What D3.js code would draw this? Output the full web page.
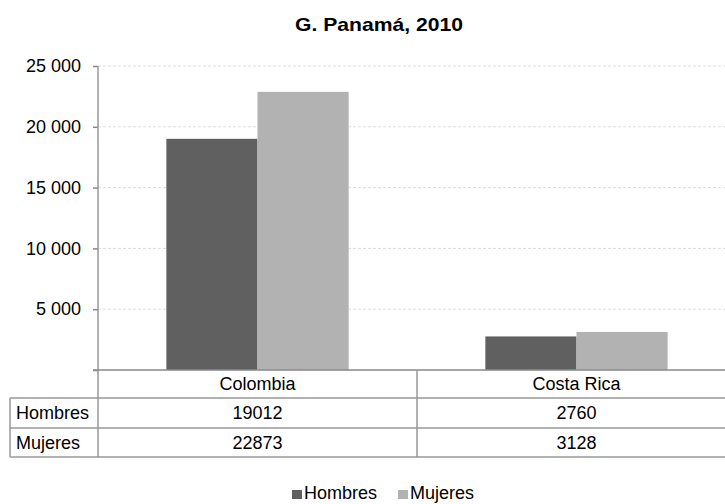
<!DOCTYPE html>
<html><head><meta charset="utf-8">
<script src="https://cdn.jsdelivr.net/npm/d3@7"></script>
<style>body{margin:0;background:#fff;font-family:"Liberation Sans",Arial,sans-serif;}</style>
</head><body><svg id="c" width="725" height="504" font-family="Liberation Sans, Arial, sans-serif"></svg>
<script>
const categories = ["Colombia", "Costa Rica"];
const seriesNames = ["Hombres", "Mujeres"];
const hombres = [19012, 2760];
const mujeres = [22873, 3128];
const yTicks = [0, 5000, 10000, 15000, 20000, 25000];
const title = "G. Panamá, 2010";
const colors = ["#606060", "#b2b2b2"];

(function () {
const svg = d3.select("#c");
const pLeft = 98, pRight = 736, pTop = 66, pBottom = 370;
const x = d3.scaleBand().domain(categories).range([pLeft, pRight]);
const xs = d3.scaleBand().domain(seriesNames).range([0, x.bandwidth()]).paddingOuter(0.75).paddingInner(0);
const y = d3.scaleLinear().domain([0, 25000]).range([pBottom, pTop]);
const fmt = v => v === 0 ? "" : d3.format(",")(v).replace(/,/g, " ");

svg.append("text").attr("x", 295).attr("y", 31)
  .attr("font-weight", "bold").attr("font-size", 18.5)
  .attr("textLength", 168).attr("lengthAdjust", "spacingAndGlyphs").text(title);

// grid
svg.append("g").selectAll("line").data(yTicks.filter(d => d > 0)).join("line")
  .attr("x1", pLeft).attr("x2", 725).attr("y1", d => y(d)).attr("y2", d => y(d))
  .attr("stroke", "#dcdcdc").attr("stroke-dasharray", "3,2");

// bars
const data = [hombres, mujeres];
seriesNames.forEach((s, i) => {
  svg.append("g").selectAll("rect").data(categories).join("rect")
    .attr("x", c => x(c) + xs(s)).attr("width", xs.bandwidth())
    .attr("y", (c, j) => y(data[i][j])).attr("height", (c, j) => pBottom - y(data[i][j]))
    .attr("fill", colors[i]);
});

// y axis
const ya = d3.axisLeft(y).tickValues(yTicks).tickFormat(fmt).tickSize(5).tickPadding(12);
const g = svg.append("g").attr("transform", `translate(${pLeft},0)`).call(ya);
g.select(".domain").remove();
g.selectAll(".tick line").attr("stroke", "#888").attr("stroke-width", 1.5);
g.selectAll(".tick text").attr("font-size", 18).attr("fill", "#000")
  .attr("font-family", "Liberation Sans, Arial, sans-serif");

// table
const lineCol = "#999";
const rowY = [pBottom, 398, 428, 457];
const T = svg.append("g").attr("stroke", lineCol).attr("stroke-width", 1.5);
T.append("line").attr("x1", pLeft).attr("x2", pLeft).attr("y1", pTop).attr("y2", rowY[3]);
T.append("line").attr("x1", pLeft - 5).attr("x2", 725).attr("y1", rowY[0]).attr("y2", rowY[0]).attr("stroke", "#888");
[1, 2, 3].forEach(k => T.append("line").attr("x1", 10).attr("x2", 725).attr("y1", rowY[k]).attr("y2", rowY[k]));
T.append("line").attr("x1", 10).attr("x2", 10).attr("y1", rowY[1]).attr("y2", rowY[3]);
T.append("line").attr("x1", x(categories[1])).attr("x2", x(categories[1])).attr("y1", rowY[0]).attr("y2", rowY[3]);

const txt = svg.append("g").attr("font-size", 18).attr("fill", "#000");
categories.forEach((c, j) => {
  const cx = x(c) + x.bandwidth() / 2;
  txt.append("text").attr("x", cx).attr("y", 390).attr("text-anchor", "middle").text(c);
  txt.append("text").attr("x", cx).attr("y", 419).attr("text-anchor", "middle").text(hombres[j]);
  txt.append("text").attr("x", cx).attr("y", 449).attr("text-anchor", "middle").text(mujeres[j]);
});
[419, 449].forEach((by, i) => {
  txt.append("text").attr("x", 16).attr("y", by).text(seriesNames[i]);
});

// legend
const leg = svg.append("g").attr("font-size", 18);
const legX = [292, 398];
seriesNames.forEach((s, i) => {
  leg.append("rect").attr("x", legX[i]).attr("y", 490).attr("width", 10).attr("height", 9).attr("fill", colors[i]);
  leg.append("text").attr("x", legX[i] + 12).attr("y", 499).text(s);
});
})();
</script></body></html>
